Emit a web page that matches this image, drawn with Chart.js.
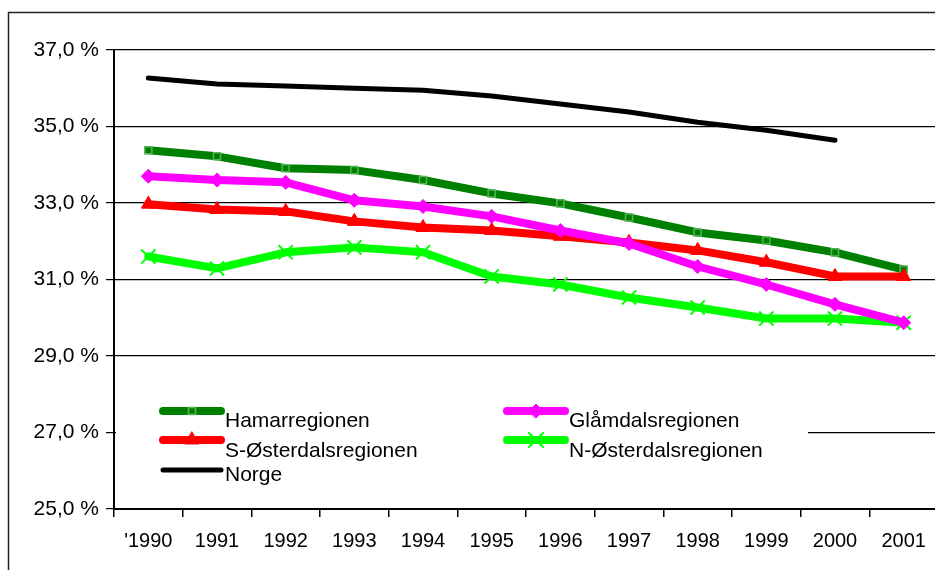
<!DOCTYPE html>
<html lang="no">
<head>
<meta charset="UTF-8">
<title>Regioner 1990-2001</title>
<style>
  body { margin: 0; background: #fff; overflow: hidden; }
</style>
</head>
<body>
<div style="width: 950px; height: 570px;">
  <canvas id="myChart" width="950" height="570"></canvas>
</div>
<script src="https://cdn.jsdelivr.net/npm/chart.js"></script>
<script>
// data (percent)
const years = ["'1990", "1991", "1992", "1993", "1994", "1995", "1996", "1997", "1998", "1999", "2000", "2001"];
const hamar    = [34.38, 34.22, 33.91, 33.86, 33.60, 33.25, 32.99, 32.62, 32.23, 32.02, 31.71, 31.26];
const glamdal  = [33.70, 33.60, 33.54, 33.07, 32.91, 32.65, 32.28, 31.94, 31.34, 30.87, 30.35, 29.87];
const sOster   = [32.97, 32.83, 32.78, 32.52, 32.36, 32.28, 32.13, 31.97, 31.76, 31.45, 31.08, 31.08];
const nOster   = [31.60, 31.29, 31.71, 31.84, 31.71, 31.08, 30.87, 30.53, 30.27, 29.98, 29.98, 29.87];
const norge    = [36.27, 36.11, 36.06, 36.00, 35.95, 35.80, 35.59, 35.38, 35.11, 34.90, 34.64, null];
const yMin = 25, yMax = 37, yStep = 2;

const FONT = "Arial, 'Liberation Sans', sans-serif";

// outer frame
const framePlugin = {
    id: 'frame',
    beforeDraw(chart) {
        const c = chart.ctx;
        c.save();
        c.fillStyle = '#fff';
        c.fillRect(0, 0, chart.width, chart.height);
        c.strokeStyle = '#222';
        c.lineWidth = 1.5;
        c.strokeRect(8.5, 12.5, 1200, 1200);
        c.restore();
    }
};

// legend inside the plot, two columns like the excel one
const boxLegend = {
    id: 'boxLegend',
    afterDraw(chart) {
        const c = chart.ctx;
        const spots = [
            [163, 411, 427], [507, 411, 427],
            [163, 440, 457], [507, 440, 457],
            [163, 470, 481]
        ];
        c.save();
        c.fillStyle = '#fff';
        c.fillRect(116, 395, 692, 100);
        chart.data.datasets.forEach((ds, i) => {
            const p = spots[i];
            c.strokeStyle = ds.borderColor;
            c.lineWidth = ds.borderWidth;
            c.lineCap = 'round';
            c.beginPath();
            c.moveTo(p[0], p[1]);
            c.lineTo(p[0] + 58, p[1]);
            c.stroke();
            if (ds.pointRadius > 0) {
                c.fillStyle = ds.pointBackgroundColor;
                c.strokeStyle = ds.pointBorderColor;
                c.lineWidth = ds.pointBorderWidth;
                Chart.helpers.drawPoint(c, { pointStyle: ds.pointStyle, radius: ds.pointRadius, rotation: 0, borderWidth: ds.pointBorderWidth }, p[0] + 29, p[1]);
            }
            c.fillStyle = '#000';
            c.font = '21px ' + FONT;
            c.textBaseline = 'alphabetic';
            c.textAlign = 'left';
            c.fillText(ds.label, p[0] + 62, p[2]);
        });
        c.restore();
    }
};

const ctx = document.getElementById('myChart');
const myChart = new Chart(ctx, {
    type: 'line',
    data: {
        labels: years,
        datasets: [{
            label: 'Hamarregionen',
            data: hamar,
            borderColor: '#008000',
            borderWidth: 8,
            pointStyle: 'rect',
            pointRadius: 5,
            pointBackgroundColor: '#008000',
            pointBorderColor: '#55b455',
            pointBorderWidth: 1.5,
            order: 2
        }, {
            label: 'Glåmdalsregionen',
            data: glamdal,
            borderColor: '#ff00ff',
            borderWidth: 8,
            pointStyle: 'rectRot',
            pointRadius: 7,
            pointBackgroundColor: '#ff00ff',
            pointBorderColor: '#ff00ff',
            pointBorderWidth: 1,
            order: 0
        }, {
            label: 'S-Østerdalsregionen',
            data: sOster,
            borderColor: '#ff0000',
            borderWidth: 8,
            pointStyle: 'triangle',
            pointRadius: 8,
            pointBackgroundColor: '#ff0000',
            pointBorderColor: '#ff0000',
            pointBorderWidth: 1,
            order: 1
        }, {
            label: 'N-Østerdalsregionen',
            data: nOster,
            borderColor: '#00ff00',
            borderWidth: 8,
            pointStyle: 'crossRot',
            pointRadius: 10,
            pointBackgroundColor: '#00ff00',
            pointBorderColor: '#00ff00',
            pointBorderWidth: 2,
            order: 3
        }, {
            label: 'Norge',
            data: norge,
            borderColor: '#000000',
            borderWidth: 5,
            pointRadius: 0,
            order: 4
        }]
    },
    options: {
        responsive: false,
        devicePixelRatio: 1,
        animation: false,
        spanGaps: false,
        elements: { line: { tension: 0, borderCapStyle: 'round', borderJoinStyle: 'round' } },
        layout: { padding: { top: 50, right: 0, bottom: 0, left: 0 } },
        plugins: {
            legend: { display: false },
            tooltip: { enabled: false }
        },
        scales: {
            x: {
                offset: true,
                grid: { offset: true, drawOnChartArea: false, drawTicks: true, tickLength: 8, color: '#000', lineWidth: 1.5 },
                border: { color: '#000', width: 2 },
                ticks: { color: '#000', font: { family: FONT, size: 20 }, padding: 12, maxRotation: 0, autoSkip: false },
                afterFit(scale) { scale.height = 61; }
            },
            y: {
                min: yMin,
                max: yMax,
                grid: { color: '#000', lineWidth: 1.2, tickLength: 8 },
                border: { color: '#000', width: 2 },
                ticks: {
                    stepSize: yStep,
                    color: '#000',
                    font: { family: FONT, size: 21 },
                    padding: 7,
                    callback: v => v.toFixed(1).replace('.', ',') + ' %'
                },
                afterFit(scale) { scale.width = 114; }
            }
        }
    },
    plugins: [framePlugin, boxLegend]
});
</script>
</body>
</html>
